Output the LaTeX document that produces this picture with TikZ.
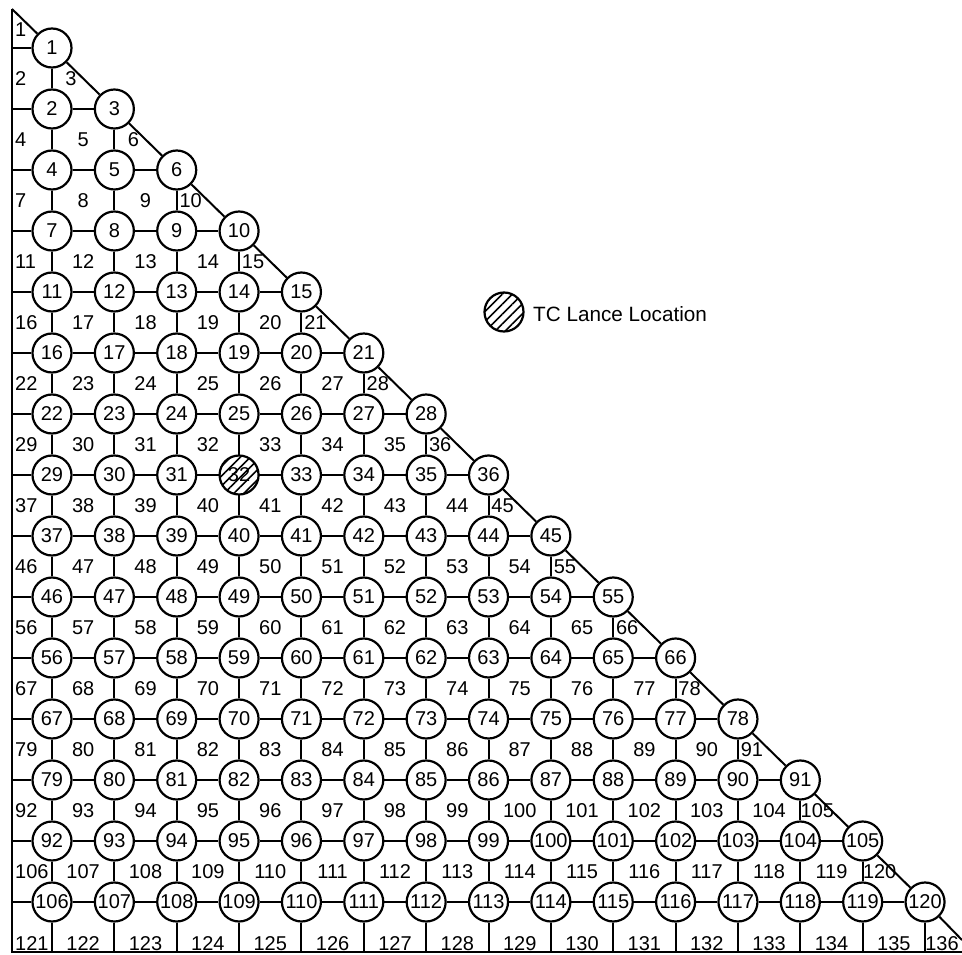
\documentclass[tikz,border=0pt]{standalone}
\usepackage{fontspec}
\setmainfont{Liberation Sans}
\usetikzlibrary{patterns.meta}
\tikzstyle{site}=[circle, draw, line width=2.2pt, fill=white, minimum size=39pt, inner sep=0pt, font=\fontsize{20}{24}\selectfont]
\tikzstyle{lance}=[site, preaction={fill=white}, pattern={Lines[angle=45, distance=7pt, line width=1.6pt]}]
\tikzstyle{cell}=[inner sep=0pt, font=\fontsize{20}{24}\selectfont]
\tikzstyle{grid}=[line width=2pt]

\begin{document}
\begin{tikzpicture}[x=1pt, y=-1pt]
				\useasboundingbox (0,0) rectangle (962,955);

				\coordinate (tl) at (12,9);
				\coordinate (bl) at (12,952);
				\coordinate (be) at (962,952);
				\coordinate (br) at (962,940);

				\foreach \r in {1,...,15} {
					\coordinate (l\r) at (12,{48+61*(\r-1)});
					\foreach \c in {1,...,\r} {
						\pgfmathtruncatemacro\k{\r*(\r-1)/2+\c}
						\ifnum\k=32
							\node[lance] (n\k) at ({52+62.36*(\c-1)},{48+61*(\r-1)}) {\k};
						\else
							\node[site] (n\k) at ({52+62.36*(\c-1)},{48+61*(\r-1)}) {\k};
						\fi
					}
				}
				\foreach \c in {1,...,15}
					\coordinate (b\c) at ({52+62.36*(\c-1)},952);

				\draw[grid] (tl) -- (bl) -- (be);

				\foreach \r in {1,...,15} {
					\pgfmathtruncatemacro\f{\r*(\r-1)/2+1}
					\draw[grid] (l\r) -- (n\f);
					\pgfmathtruncatemacro\e{\r*(\r+1)/2-1}
					\ifnum\r>1
						\foreach \k in {\f,...,\e} {
							\pgfmathtruncatemacro\m{\k+1}
							\draw[grid] (n\k) -- (n\m);
						}
					\fi
				}

				\foreach \r in {1,...,14} {
					\foreach \c in {1,...,\r} {
						\pgfmathtruncatemacro\k{\r*(\r-1)/2+\c}
						\pgfmathtruncatemacro\m{\k+\r}
						\draw[grid] (n\k) -- (n\m);
					}
				}
				\foreach \c in {1,...,15} {
					\pgfmathtruncatemacro\k{105+\c}
					\draw[grid] (n\k) -- (b\c);
				}

				\draw[grid] (tl) -- (n1);
				\foreach \r in {1,...,14} {
					\pgfmathtruncatemacro\k{\r*(\r+1)/2}
					\pgfmathtruncatemacro\m{(\r+1)*(\r+2)/2}
					\draw[grid] (n\k) -- (n\m);
				}
				\draw[grid] (n120) -- (br);

				\node[cell, anchor=west] (c1) at (15,30) {1};
				\foreach \j in {2,...,16} {
					\pgfmathsetmacro\y{\j<16 ? 48+61*(\j-2)+30.5 : 944}
					\pgfmathtruncatemacro\f{\j*(\j-1)/2+1}
					\pgfmathtruncatemacro\e{\j*(\j+1)/2}
					\node[cell, anchor=west] (c\f) at (15,\y) {\f};
					\ifnum\j>2
						\foreach \i in {1,...,\numexpr\j-2\relax} {
							\pgfmathtruncatemacro\k{\f+\i}
							\node[cell] (c\k) at ({52+62.36*(\i-0.5)},\y) {\k};
						}
					\fi
					\pgfmathsetmacro\d{\e<10 ? 19 : (\e>99 ? 17 : 14)}
					\node[cell] (c\e) at ({52+62.36*(\j-2)+\d},\y) {\e};
				}

				\node[lance] (key) at (504,312) {};
				\node[cell, anchor=west, font=\fontsize{20.7}{24}\selectfont] (keytext) at (533,314) {TC Lance Location};
			\end{tikzpicture}
\end{document}
